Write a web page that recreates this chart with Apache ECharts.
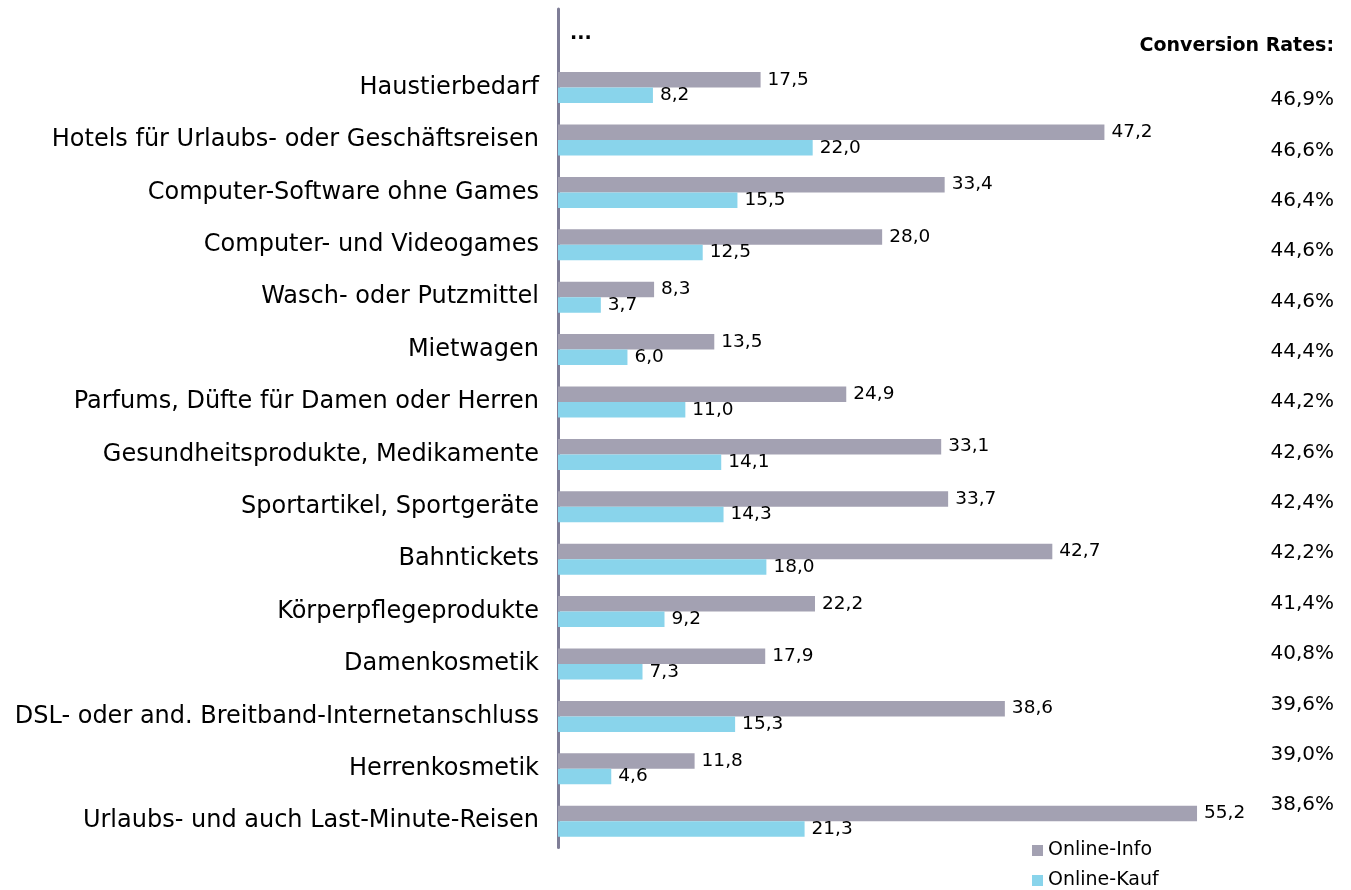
<!DOCTYPE html>
<html><head><meta charset="utf-8">
<script src="https://cdn.jsdelivr.net/npm/echarts@6/dist/echarts.min.js"></script>
<style>html,body{margin:0;padding:0;background:#fff}#c{width:1351px;height:890px}</style>
</head><body><div id="c"></div>
<script>
const categories = ["", "Haustierbedarf", "Hotels für Urlaubs- oder Geschäftsreisen", "Computer-Software ohne Games", "Computer- und Videogames", "Wasch- oder Putzmittel", "Mietwagen", "Parfums, Düfte für Damen oder Herren", "Gesundheitsprodukte, Medikamente", "Sportartikel, Sportgeräte", "Bahntickets", "Körperpflegeprodukte", "Damenkosmetik", "DSL- oder and. Breitband-Internetanschluss", "Herrenkosmetik", "Urlaubs- und auch Last-Minute-Reisen"];
const onlineInfo = [null, 17.5, 47.2, 33.4, 28.0, 8.3, 13.5, 24.9, 33.1, 33.7, 42.7, 22.2, 17.9, 38.6, 11.8, 55.2];
const onlineKauf = [null, 8.2, 22.0, 15.5, 12.5, 3.7, 6.0, 11.0, 14.1, 14.3, 18.0, 9.2, 7.3, 15.3, 4.6, 21.3];
const conversionRates = [46.9, 46.6, 46.4, 44.6, 44.6, 44.4, 44.2, 42.6, 42.4, 42.2, 41.4, 40.8, 39.6, 39.0, 38.6];
const seriesNames = ["Online-Info", "Online-Kauf"];

const FONT = "DejaVu Sans";
const fmt = v => v.toFixed(1).replace('.', ',');
const chart = echarts.init(document.getElementById('c'), null, {renderer: 'canvas'});
chart.setOption({
  animation: false,
  textStyle: {fontFamily: FONT},
  grid: [
    {left: 558, top: 9, width: 694.6, height: 838.4, containLabel: false},
    {right: 17, top: 74.8, width: 60, height: 755.4, containLabel: false}
  ],
  xAxis: [
    {type: 'value', gridIndex: 0, min: 0, max: 60, show: false},
    {type: 'value', gridIndex: 1, min: 0, max: 1, show: false}
  ],
  yAxis: [
    {type: 'category', gridIndex: 0, data: categories, inverse: true,
     axisLine: {show: true, lineStyle: {color: '#7f7e97', width: 3}},
     axisTick: {show: false},
     axisLabel: {fontSize: 24, color: '#000', margin: 19, fontFamily: FONT}},
    {type: 'category', gridIndex: 1, position: 'right', inverse: true,
     data: conversionRates.map(v => fmt(v) + '%'),
     axisLine: {show: false}, axisTick: {show: false},
     axisLabel: {inside: true, margin: 0, fontSize: 20, color: '#000', fontFamily: FONT}}
  ],
  legend: {
    orient: 'vertical', left: 1032, top: 841, padding: 0, itemWidth: 11, itemHeight: 11, itemGap: 11,
    icon: 'rect', data: seriesNames,
    textStyle: {fontSize: 19, color: '#000', fontFamily: FONT}
  },
  graphic: [
    {type: 'text', left: 570, top: 25, style: {text: '...', font: 'bold 19px "DejaVu Sans"', fill: '#000'}},
    {type: 'text', right: 17, top: 37, style: {text: 'Conversion Rates:', font: 'bold 19px "DejaVu Sans"', fill: '#000'}}
  ],
  series: [
    {name: seriesNames[0], type: 'bar', xAxisIndex: 0, yAxisIndex: 0, data: onlineInfo,
     barWidth: 15.5, barGap: '0%', itemStyle: {color: '#a3a1b2'},
     label: {show: true, position: 'right', distance: 7, fontSize: 18.5, color: '#000', fontFamily: FONT,
             formatter: p => p.value == null ? '' : fmt(p.value)}},
    {name: seriesNames[1], type: 'bar', xAxisIndex: 0, yAxisIndex: 0, data: onlineKauf,
     barWidth: 15.5, barGap: '0%', itemStyle: {color: '#89d4eb'},
     label: {show: true, position: 'right', distance: 7, fontSize: 18.5, color: '#000', fontFamily: FONT,
             formatter: p => p.value == null ? '' : fmt(p.value)}}
  ]
});
</script></body></html>
